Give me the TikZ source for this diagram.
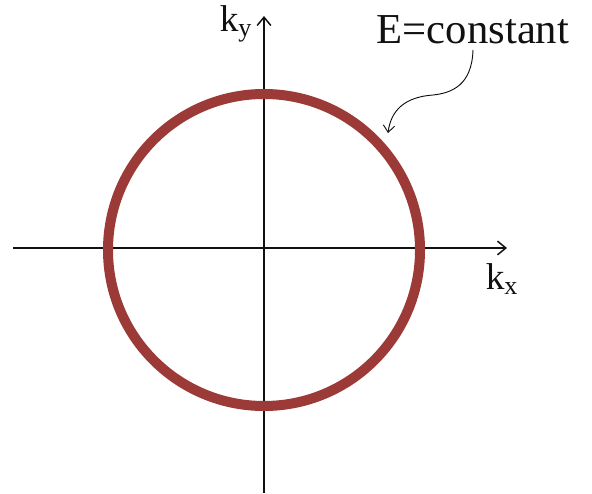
\documentclass[tikz,border=0pt]{standalone}
\usepackage{fontspec}
\setmainfont{Liberation Serif}
\usepackage{tikz}
\usetikzlibrary{arrows.meta, positioning}
\definecolor{fsRed}{HTML}{9B3A36}
\definecolor{fsInk}{HTML}{111111}

\begin{document}
\begin{tikzpicture}[x=0.75pt, y=-0.75pt,
  axis/.style={line width=1.5pt, color=fsInk, -{Straight Barb[length=2.2mm, width=3.6mm, line width=1.1pt]}},
  fermi/.style={line width=7.5pt, color=fsRed},
  lbl/.style={font=\fontsize{28}{32}\selectfont, text=fsInk, inner sep=1pt},
  note/.style={font=\fontsize{32}{36}\selectfont, text=fsInk, inner sep=1pt},
  pointer/.style={line width=0.7pt, color=fsInk, -{Straight Barb[length=1.8mm, width=3mm, line width=0.7pt]}}
]
\useasboundingbox (0,0) rectangle (592,493);

% axes
\coordinate (o) at (264,250);
\coordinate (xl) at (13,248);
\coordinate (xr) at (507,248);
\coordinate (yb) at (264,493);
\coordinate (yt) at (264,16);
\draw[axis] (xl) -- (xr);
\draw[axis] (yb) -- (yt);

% constant energy surface
\draw[fermi] (o) circle[radius=117pt];

\node[lbl] (ky) at (236,24) {k\textsubscript{y}};
\node[lbl] (kx) at (502,279) {k\textsubscript{x}};
\node[note] (econst) at (473,30) {E=constant};

\coordinate (hit) at (388,133);
\draw[pointer] ([yshift=-3pt]econst.south) .. controls (472,85) and (452,93) .. (433,95)
  .. controls (405,97) and (391,110) .. (hit);
\end{tikzpicture}
\end{document}
